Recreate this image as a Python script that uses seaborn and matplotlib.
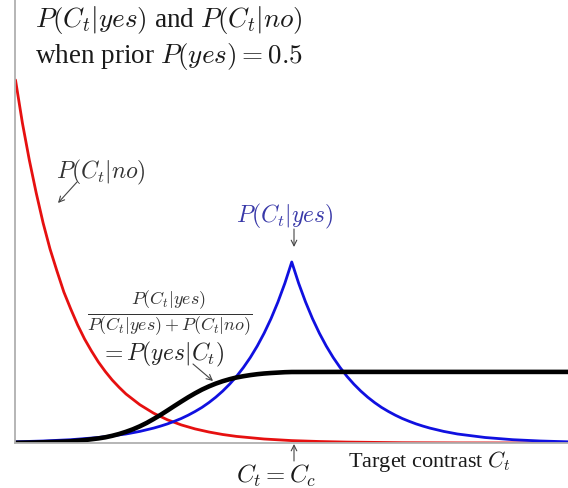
import matplotlib
matplotlib.use("Agg")
import matplotlib.pyplot as plt
import seaborn as sns
import pandas as pd

# P(C_t | no): target contrast C_t and density
no_contrast = [0.0, 0.125, 0.25, 0.375, 0.5, 0.625, 0.75, 0.875, 1.0, 1.125, 1.25, 1.375,
               1.5, 1.625, 1.75, 1.875, 2.0, 2.25, 2.5, 2.75, 3.0, 3.25, 3.5, 3.75,
               4.0, 4.5, 5.0, 5.5, 6.0, 7.0, 8.0, 10.0]
p_no = [3.63, 3.20, 2.83, 2.50, 2.20, 1.94, 1.72, 1.51, 1.34, 1.18, 1.04, 0.92,
        0.81, 0.715, 0.63, 0.557, 0.49, 0.383, 0.298, 0.232, 0.181, 0.141, 0.110, 0.085,
        0.066, 0.040, 0.024, 0.015, 0.009, 0.003, 0.001, 0.0]

# P(C_t | yes)
yes_contrast = [0.0, 0.5, 1.0, 1.5, 2.0, 2.25, 2.5, 2.625, 2.75, 2.875, 3.0, 3.125,
                3.25, 3.375, 3.5, 3.625, 3.75, 3.875, 4.0, 4.125, 4.25, 4.375, 4.5, 4.625,
                4.75, 4.875, 5.0, 5.125, 5.25, 5.375, 5.5, 5.625, 5.75, 5.875, 6.0, 6.125,
                6.25, 6.375, 6.5, 6.625, 6.75, 6.875, 7.0, 7.125, 7.25, 7.375, 7.5, 7.75,
                8.0, 8.5, 9.0, 9.5, 10.0]
p_yes = [0.012, 0.020, 0.033, 0.055, 0.090, 0.116, 0.149, 0.169, 0.191, 0.217, 0.245, 0.278,
         0.315, 0.356, 0.404, 0.458, 0.519, 0.588, 0.666, 0.755, 0.855, 0.969, 1.098, 1.244,
         1.410, 1.597, 1.81, 1.597, 1.410, 1.244, 1.098, 0.969, 0.855, 0.755, 0.666, 0.588,
         0.519, 0.458, 0.404, 0.356, 0.315, 0.278, 0.245, 0.217, 0.191, 0.169, 0.149, 0.116,
         0.090, 0.055, 0.033, 0.020, 0.012]

# P(yes | C_t), scaled
post_contrast = [0.0, 0.25, 0.5, 0.75, 1.0, 1.25, 1.5, 1.625, 1.75, 1.875, 2.0, 2.125,
                 2.25, 2.375, 2.5, 2.625, 2.75, 2.875, 3.0, 3.125, 3.25, 3.375, 3.5, 3.625,
                 3.75, 3.875, 4.0, 4.125, 4.25, 4.375, 4.5, 4.625, 4.75, 4.875, 5.0, 6.0,
                 8.0, 10.0]
p_post = [0.002, 0.004, 0.007, 0.011, 0.017, 0.029, 0.046, 0.057, 0.072, 0.090, 0.112, 0.137,
          0.167, 0.201, 0.240, 0.281, 0.325, 0.370, 0.414, 0.457, 0.497, 0.534, 0.566, 0.594,
          0.618, 0.638, 0.655, 0.668, 0.679, 0.688, 0.695, 0.700, 0.704, 0.708, 0.710, 0.711,
          0.711, 0.711]

sns.set_style("white")
plt.rcParams["font.family"] = ["Liberation Serif", "DejaVu Serif"]
plt.rcParams["mathtext.fontset"] = "cm"

fig = plt.figure(figsize=(5.68, 4.88), dpi=100)
ax = fig.add_axes([15.5 / 568, 45 / 488, 1 - 15.5 / 568, 443 / 488])

df_no = pd.DataFrame({"c": no_contrast, "p": p_no})
df_yes = pd.DataFrame({"c": yes_contrast, "p": p_yes})
df_post = pd.DataFrame({"c": post_contrast, "p": p_post})
sns.lineplot(data=df_no, x="c", y="p", ax=ax, color="#e61010", lw=2.0)
sns.lineplot(data=df_yes, x="c", y="p", ax=ax, color="#1010e0", lw=2.0)
sns.lineplot(data=df_post, x="c", y="p", ax=ax, color="black", lw=3.3)

ax.set_xlim(0, 10)
ax.set_ylim(0, 4.43)
ax.set_xticks([])
ax.set_yticks([])
ax.set_xlabel("")
ax.set_ylabel("")
for s in ["top", "right"]:
    ax.spines[s].set_visible(False)
for s in ["left", "bottom"]:
    ax.spines[s].set_color("#b0b0b0")
    ax.spines[s].set_linewidth(1.3)

H = 488
tc = "#1a1a1a"
gc = "#444444"

def ft(x, y, s, size, color=tc, ha="left", va="baseline"):
    fig.text(x / 568, 1 - y / H, s, fontsize=size, color=color, ha=ha, va=va)

def arrow(x0, y0, x1, y1):
    ax.annotate("", xy=(x1, H - y1), xycoords="figure pixels",
                xytext=(x0, H - y0), textcoords="figure pixels",
                arrowprops=dict(arrowstyle="->", color=gc, lw=0.8,
                                shrinkA=0, shrinkB=0))

ft(35, 27, r"$P(C_t|yes)$ and $P(C_t|no)$", 19.5)
ft(35, 63, r"when prior $P(yes) = 0.5$", 19.5)

ft(56, 178, r"$P(C_t|no)$", 17, color="#333333")
arrow(77, 182, 58, 203)

ft(285, 222, r"$P(C_t|yes)$", 17, color="#3838a8", ha="center")
arrow(294, 229, 294, 247)

ft(170, 313, r"$\frac{P(C_t|yes)}{P(C_t|yes)+P(C_t|no)}$", 18.5, color="#333333",
   ha="center", va="center")
ft(162, 360, r"$= P(yes|C_t)$", 17, color="#222222", ha="center")
arrow(193, 364, 213, 381)

arrow(294, 461, 294, 444)
ft(276, 483, r"$C_t = C_c$", 17.8, ha="center")
ft(348, 467, r"Target contrast $C_t$", 16)

fig.savefig("out.png", dpi=100)
